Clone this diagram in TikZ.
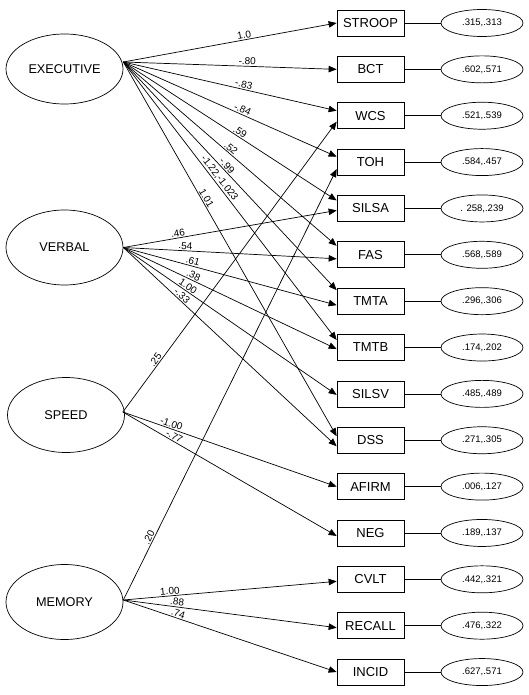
\documentclass[tikz,border=0pt]{standalone}
\usepackage{fontspec}
\setmainfont{Liberation Sans}
\usetikzlibrary{arrows.meta,shapes.geometric}
\begin{document}
\begin{tikzpicture}[x=1pt,y=-1pt,line width=0.7pt,
 lat/.style={draw, ellipse, minimum width=117pt, minimum height=75pt, inner sep=0pt, font=\fontsize{12.7}{14}\selectfont},
 obs/.style={draw, rectangle, minimum width=67pt, minimum height=26pt, inner sep=0pt, font=\fontsize{13}{15}\selectfont},
 err/.style={draw, ellipse, minimum width=82pt, minimum height=27pt, inner sep=0pt, font=\fontsize{9.5}{11}\selectfont},
 reg/.style={-{Triangle[length=8pt,width=6.5pt]}},
 lbl/.style={sloped, above, inner sep=1pt, font=\fontsize{10}{12}\selectfont}]
\useasboundingbox (0,0) rectangle (529,695);
% latent variables
\node[lat, minimum height=70pt] (exec) at (64.5,69) {EXECUTIVE};
\node[lat] (verbal) at (64.5,247.5) {VERBAL};
\node[lat] (speed) at (66,415) {SPEED};
\node[lat] (memory) at (64.5,602) {MEMORY};
\coordinate (eo) at ([yshift=7pt]exec.east);
\coordinate (vo) at (verbal.east);
\coordinate (so) at ([yshift=3pt,xshift=-2pt]speed.east);
\coordinate (mo) at ([yshift=2pt]memory.east);
% observed variables and errors
\foreach \n/\t/\e [count=\i from 0] in {stroop/STROOP/{.315,.313}, bct/BCT/{.602,.571}, wcs/WCS/{.521,.539}, toh/TOH/{.584,.457}, silsa/SILSA/{. 258,.239}, fas/FAS/{.568,.589}, tmta/TMTA/{.296,.306}, tmtb/TMTB/{.174,.202}, silsv/SILSV/{.485,.489}, dss/DSS/{.271,.305}, afirm/AFIRM/{.006,.127}, neg/NEG/{.189,.137}, cvlt/CVLT/{.442,.321}, recall/RECALL/{.476,.322}, incid/INCID/{.627,.571}}{
  \node[obs] (\n) at (370.5,{23+46.36*\i}) {\t};
  \node[err] (e\n) at (482,{23+46.36*\i}) {\e};
  \draw (\n.east) -- (e\n.west);
}
% EXECUTIVE paths
\draw[reg] (eo) -- node[lbl,pos=0.57]{1.0} (stroop.west);
\draw[reg] (eo) -- node[lbl,pos=0.58]{-.80} (bct.west);
\draw[reg] (eo) -- node[lbl,pos=0.56]{-.83} ([yshift=5pt]wcs.west);
\draw[reg] (eo) -- node[lbl,pos=0.55]{-.84} ([yshift=5.4pt]toh.west);
\draw[reg] (eo) -- node[lbl,pos=0.535]{.59} ([yshift=8pt]silsa.west);
\draw[reg] (eo) -- node[lbl,pos=0.49]{.52} ([yshift=9pt]fas.west);
\draw[reg] (eo) -- node[lbl,pos=0.47]{-.99} ([yshift=11pt]tmta.west);
\draw[reg] (eo) -- node[lbl,pos=0.43]{-1.22,-1.023} ([yshift=7.5pt]tmtb.west);
\draw[reg] (eo) -- node[lbl,pos=0.37]{1.01} ([yshift=4pt]dss.west);
% VERBAL paths
\draw[reg] (vo) -- node[lbl,pos=0.26]{.46} ([yshift=-2pt]silsa.west);
\draw[reg] (vo) -- node[lbl,pos=0.29]{.54} ([yshift=-4pt]fas.west);
\draw[reg] (vo) -- node[lbl,pos=0.32]{.61} ([yshift=-4pt]tmta.west);
\draw[reg] (vo) -- node[lbl,pos=0.32]{.38} ([yshift=-1.5pt]tmtb.west);
\draw[reg] (vo) -- node[lbl,pos=0.29]{1.00} ([yshift=-1pt]silsv.west);
\draw[reg] (vo) -- node[lbl,pos=0.26]{-.33} ([yshift=-6pt]dss.west);
% SPEED paths
\draw[reg] (so) -- node[lbl,pos=0.17]{.25} ([yshift=-6pt]wcs.west);
\draw[reg] (so) -- node[lbl,pos=0.22]{-1.00} (afirm.west);
\draw[reg] (so) -- node[lbl,pos=0.23]{-.77} ([yshift=-3pt]neg.west);
% MEMORY paths
\draw[reg] (mo) -- node[lbl,pos=0.14]{.20} ([yshift=-7pt]toh.west);
\draw[reg] (mo) -- node[lbl,pos=0.22]{1.00} ([yshift=-2pt]cvlt.west);
\draw[reg] (mo) -- node[lbl,pos=0.25]{.88} ([yshift=-2pt]recall.west);
\draw[reg] (mo) -- node[lbl,pos=0.25]{.74} (incid.west);
\end{tikzpicture}
\end{document}
